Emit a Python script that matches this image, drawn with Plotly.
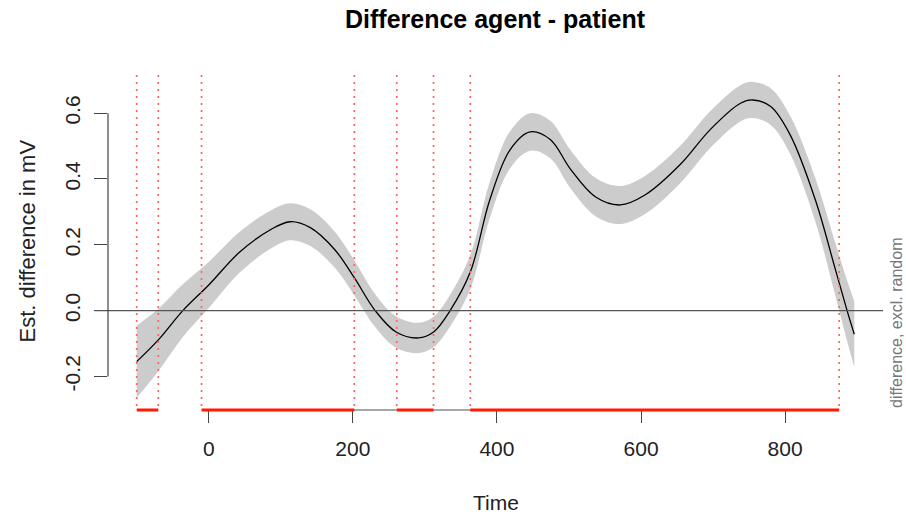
import plotly.graph_objects as go

# ---- data ----
time = [-100, -70, -36, 0, 43, 85, 113, 141, 175, 202, 231, 260, 291, 312, 335, 363,
        390, 418, 446, 474, 502, 537, 571, 606, 654, 696, 738, 755, 780, 807, 842, 870, 886, 896]
est = [-0.155, -0.089, 0.0, 0.078, 0.178, 0.245, 0.27, 0.252, 0.185, 0.10, 0.0, -0.065,
       -0.083, -0.065, 0.0, 0.117, 0.336, 0.488, 0.543, 0.52, 0.43, 0.345, 0.321, 0.352,
       0.443, 0.55, 0.63, 0.64, 0.62, 0.534, 0.336, 0.123, 0.0, -0.072]
ci = [0.11, 0.095, 0.08, 0.07, 0.062, 0.058, 0.056, 0.056, 0.055, 0.053, 0.05, 0.048,
      0.046, 0.046, 0.048, 0.052, 0.055, 0.056, 0.057, 0.057, 0.058, 0.058, 0.058, 0.058,
      0.057, 0.056, 0.055, 0.055, 0.056, 0.058, 0.066, 0.08, 0.092, 0.10]
sig_start = [-100, -10, 261, 363]
sig_end = [-70, 202, 312, 875]
x_ticks = [0, 200, 400, 600, 800]
y_ticks = [-0.2, 0.0, 0.2, 0.4, 0.6]
y_ticklabels = ["-0.2", "0.0", "0.2", "0.4", "0.6"]

upper = [e + c for e, c in zip(est, ci)]
lower = [e - c for e, c in zip(est, ci)]

FONT = "Liberation Sans, Arial, Helvetica, sans-serif"

fig = go.Figure()
fig.add_trace(go.Scatter(x=time, y=upper, mode="lines", line=dict(width=0, shape="spline"),
                         hoverinfo="skip", showlegend=False))
fig.add_trace(go.Scatter(x=time, y=lower, mode="lines", line=dict(width=0, shape="spline"),
                         fill="tonexty", fillcolor="rgb(204,204,204)",
                         hoverinfo="skip", showlegend=False))
fig.add_trace(go.Scatter(x=time, y=est, mode="lines",
                         line=dict(color="black", width=1.3, shape="spline"),
                         showlegend=False))

shapes = []
# zero line
shapes.append(dict(type="line", xref="paper", yref="y", x0=-0.017, x1=1.0, y0=0, y1=0,
                   line=dict(color="#555555", width=1.3), layer="above"))
# y axis line
shapes.append(dict(type="line", xref="paper", yref="y", x0=0, x1=0,
                   y0=y_ticks[0], y1=y_ticks[-1], line=dict(color="#444444", width=1.2)))
# x axis line
shapes.append(dict(type="line", xref="x", yref="paper", x0=x_ticks[0], x1=x_ticks[-1],
                   y0=0, y1=0, line=dict(color="#888888", width=1.5)))
# vertical dotted lines at significance boundaries
for v in sorted(set(sig_start + sig_end)):
    shapes.append(dict(type="line", xref="x", yref="paper", x0=v, x1=v, y0=0.012, y1=1,
                       line=dict(color="rgb(255,100,100)", width=1.7, dash="2px,5px"),
                       layer="above"))
# red significance segments
for a, b in zip(sig_start, sig_end):
    shapes.append(dict(type="line", xref="x", yref="paper", x0=a, x1=b, y0=0, y1=0,
                       line=dict(color="#ff1a00", width=3)))

annotations = [
    dict(text="<b>Difference agent - patient</b>", xref="paper", yref="paper",
         x=0.5, y=1 + (73 - 19) / 337, xanchor="center", yanchor="middle",
         showarrow=False, font=dict(family=FONT, size=25, color="black")),
    dict(text="Time", xref="paper", yref="paper", x=0.5, y=-(502 - 410) / 337,
         xanchor="center", yanchor="middle", showarrow=False,
         font=dict(family=FONT, size=21, color="#222222")),
    dict(text="Est. difference in mV", xref="paper", yref="paper",
         x=-(108 - 27) / 775, y=0.5, xanchor="center", yanchor="middle", textangle=-90,
         showarrow=False, font=dict(family=FONT, size=22, color="#222222")),
    dict(text="difference, excl. random", xref="paper", yref="paper",
         x=1 + (896 - 883) / 775, y=0, xanchor="center", yanchor="bottom", textangle=-90,
         showarrow=False, font=dict(family=FONT, size=16, color="#777777")),
]

fig.update_layout(
    width=906, height=517,
    margin=dict(l=108, r=23, t=73, b=107, autoexpand=False),
    paper_bgcolor="white", plot_bgcolor="white",
    shapes=shapes, annotations=annotations,
    xaxis=dict(range=[-139.84, 935.84], tickvals=x_ticks, ticks="outside", ticklen=12,
               tickcolor="#444444", showgrid=False, zeroline=False, showline=False,
               tickfont=dict(family=FONT, size=21, color="#222222"), ticklabelstandoff=8),
    yaxis=dict(range=[-0.302, 0.722], tickvals=y_ticks, ticktext=y_ticklabels,
               tickangle=-90, ticks="outside", ticklen=13, tickcolor="#444444",
               showgrid=False, zeroline=False, showline=False,
               tickfont=dict(family=FONT, size=21, color="#222222"), ticklabelstandoff=6),
)

fig.write_html("out.html")
